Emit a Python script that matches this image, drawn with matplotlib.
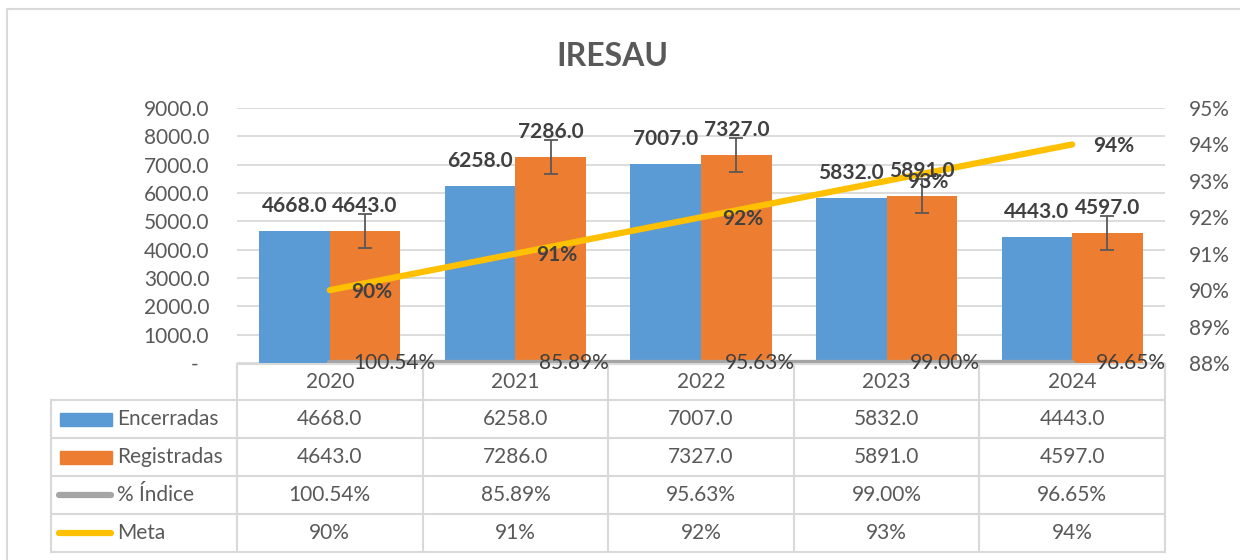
import numpy as np
import matplotlib
matplotlib.use('Agg')
import matplotlib.pyplot as plt
from matplotlib.transforms import blended_transform_factory
from matplotlib.patches import Rectangle
from matplotlib.lines import Line2D
from matplotlib.ticker import PercentFormatter

years = ['2020', '2021', '2022', '2023', '2024']
encerradas = [4668.0, 6258.0, 7007.0, 5832.0, 4443.0]
registradas = [4643.0, 7286.0, 7327.0, 5891.0, 4597.0]
indice = [1.0054, 0.8589, 0.9563, 0.9900, 0.9665]
meta = [0.90, 0.91, 0.92, 0.93, 0.94]
reg_error = 600

BLUE = '#5B9BD5'
ORANGE = '#ED7D31'
GREY = '#A5A5A5'
YELLOW = '#FFC000'
TXT = '#595959'
LBL = '#404040'
GRID = '#D9D9D9'

plt.rcParams['font.family'] = ['Lato', 'DejaVu Sans']
FS = 15

W, H = 1240, 560
fig = plt.figure(figsize=(W / 100, H / 100), dpi=100)
ax = fig.add_axes([237 / W, (H - 363) / H, 928 / W, 255 / H])
ax.patch.set_visible(False)

x = np.arange(len(years))
bw = 0.38
ax.bar(x - bw / 2, encerradas, bw, color=BLUE, zorder=2)
ax.bar(x + bw / 2, registradas, bw, color=ORANGE, zorder=2, yerr=reg_error,
       error_kw=dict(ecolor='#595959', elinewidth=1.3, capsize=5, capthick=1.3))
ax.plot(x, indice, color=GREY, lw=4.5, solid_capstyle='round', zorder=3)

ax.set_xlim(-0.5, 4.5)
ax.set_ylim(0, 9000)
ticks = list(range(0, 9001, 1000))
ax.set_yticks(ticks)
ax.set_yticklabels(['-  '] + [f'{t:.1f}' for t in ticks[1:]])
ax.tick_params(axis='y', length=0, pad=20, labelsize=FS, labelcolor=TXT)
ax.set_xticks([])
ax.grid(axis='y', color=GRID, lw=1.3)
ax.set_axisbelow(True)
for s in ax.spines.values():
    s.set_visible(False)

ax2 = ax.twinx()
ax2.patch.set_visible(False)
ax2.set_ylim(0.88, 0.95)
ax2.set_yticks(np.round(np.arange(88, 96) / 100, 2))
ax2.yaxis.set_major_formatter(PercentFormatter(1, decimals=0))
ax2.tick_params(axis='y', length=0, pad=17, labelsize=FS, labelcolor=TXT)
for s in ax2.spines.values():
    s.set_visible(False)
ax2.plot(x, meta, color=YELLOW, lw=4.5, solid_capstyle='round', zorder=3)

# data labels
for xi, v in zip(x, indice):
    ax2.annotate(f'{v:.2%}', xy=(xi, v), xycoords=ax.transData, xytext=(17, 0),
                 textcoords='offset points', ha='left', va='center',
                 fontsize=FS, color=LBL, annotation_clip=False)
for xi, v in zip(x, meta):
    ax2.annotate(f'{v:.0%}', xy=(xi, v), xytext=(15, -1),
                 textcoords='offset points', ha='left', va='center',
                 fontsize=FS, color=LBL, fontweight='bold')
for xi, v in zip(x, encerradas):
    ax2.annotate(f'{v:.1f}', xy=(xi - bw / 2, v), xycoords=ax.transData, xytext=(0, 18),
                 textcoords='offset points', ha='center', va='center',
                 fontsize=FS, color=LBL, fontweight='bold')
for xi, v in zip(x, registradas):
    ax2.annotate(f'{v:.1f}', xy=(xi + bw / 2, v), xycoords=ax.transData, xytext=(0, 18),
                 textcoords='offset points', ha='center', va='center',
                 fontsize=FS, color=LBL, fontweight='bold')

# data table (drawn beneath the axes so the bottom labels stay on top)
tr = blended_transform_factory(ax.transData, fig.transFigure)
def fy(p):
    return 1 - p / H

rows = [364, 400, 438, 476, 514, 552]
tkw = dict(transform=tr, color=GRID, lw=1.5, clip_on=False, zorder=-1)
fig.add_artist(Line2D([-0.5, 4.5], [fy(rows[0])] * 2, **tkw))
for r in rows[1:]:
    fig.add_artist(Line2D([-1.5, 4.5], [fy(r)] * 2, **tkw))
fig.add_artist(Line2D([-1.5, -1.5], [fy(rows[1]), fy(rows[-1])], **tkw))
for c in np.arange(-0.5, 5, 1.0):
    fig.add_artist(Line2D([c, c], [fy(rows[0]), fy(rows[-1])], **tkw))

for xi, yr in zip(x, years):
    fig.text(xi, fy((rows[0] + rows[1]) / 2), yr, transform=tr, ha='center', va='center',
             fontsize=FS, color=TXT, zorder=-1)

series = [
    ('Encerradas', BLUE, 'bar', [f'{v:.1f}' for v in encerradas]),
    ('Registradas', ORANGE, 'bar', [f'{v:.1f}' for v in registradas]),
    ('% Índice', GREY, 'line', [f'{v:.2%}' for v in indice]),
    ('Meta', YELLOW, 'line', [f'{v:.0%}' for v in meta]),
]
cw = 185.6
for i, (name, col, kind, vals) in enumerate(series):
    yc = fy((rows[i + 1] + rows[i + 2]) / 2)
    if kind == 'bar':
        fig.add_artist(Rectangle((-1.5 + 9 / cw, yc - 6.5 / H), 52 / cw, 13 / H,
                                 transform=tr, color=col, clip_on=False))
    else:
        fig.add_artist(Line2D([-1.5 + 8 / cw, -1.5 + 60 / cw], [yc, yc], transform=tr,
                              color=col, lw=4.5, solid_capstyle='round', clip_on=False))
    fig.text(-1.5 + 66 / cw, yc, name, transform=tr, ha='left', va='center',
             fontsize=FS, color=TXT)
    for xi, s in zip(x, vals):
        fig.text(xi, yc, s, transform=tr, ha='center', va='center', fontsize=FS, color=TXT)

# title and outer border
fig.text(612 / W, fy(57), 'IRESAU', ha='center', va='center', fontsize=23,
         fontweight='bold', color=TXT)
fig.add_artist(Line2D([7 / W, 7 / W, 1], [0, fy(9), fy(9)], color=GRID, lw=1.5, zorder=-1))

fig.savefig('out.png', dpi=100)
